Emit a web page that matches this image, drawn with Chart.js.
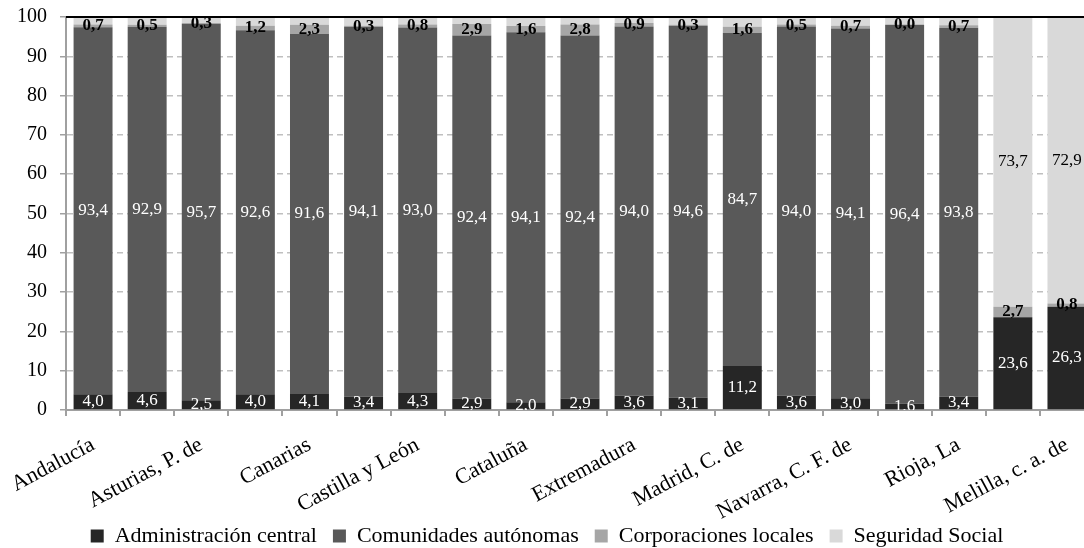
<!DOCTYPE html>
<html>
<head>
<meta charset="utf-8">
<script src="https://cdn.jsdelivr.net/npm/chart.js@4/dist/chart.umd.min.js"></script>
<style>
  html, body { margin: 0; padding: 0; background: #fff; overflow: hidden; }
  #wrap { width: 1084px; height: 548px; overflow: hidden; }
  #box { position: relative; width: 1094px; height: 557px; }
</style>
</head>
<body>
<div id="wrap"><div id="box"><canvas id="chart"></canvas></div></div>
<script>
// regiones (solo se rotulan una de cada dos)
let categories = ['Andalucía', 'Aragón', 'Asturias, P. de', 'Balears, Illes', 'Canarias', 'Cantabria',
  'Castilla y León', 'Castilla - La Mancha', 'Cataluña', 'Comunitat Valenciana', 'Extremadura', 'Galicia',
  'Madrid, C. de', 'Murcia, Región de', 'Navarra, C. F. de', 'País Vasco', 'Rioja, La',
  'Ceuta, c. a. de', 'Melilla, c. a. de'];

let adminCentral = [4.0, 4.6, 2.5, 4.0, 4.1, 3.4, 4.3, 2.9, 2.0, 2.9, 3.6, 3.1, 11.2, 3.6, 3.0, 1.6, 3.4, 23.6, 26.3];
let comunidades  = [93.4, 92.9, 95.7, 92.6, 91.6, 94.1, 93.0, 92.4, 94.1, 92.4, 94.0, 94.6, 84.7, 94.0, 94.1, 96.4, 93.8, 0, 0];
let corpLocales  = [0.7, 0.5, 0.3, 1.2, 2.3, 0.3, 0.8, 2.9, 1.6, 2.8, 0.9, 0.3, 1.6, 0.5, 0.7, 0.0, 0.7, 2.7, 0.8];
let seguridad    = [1.9, 2.0, 1.5, 2.2, 2.0, 2.2, 1.9, 1.8, 2.3, 1.9, 1.5, 2.0, 2.5, 1.9, 2.2, 2.0, 2.1, 73.7, 72.9];

let seriesNames = ['Administración central', 'Comunidades autónomas', 'Corporaciones locales', 'Seguridad Social'];
let seriesColors = ['#262626', '#595959', '#a6a6a6', '#d9d9d9'];
let yTicks = [0, 10, 20, 30, 40, 50, 60, 70, 80, 90, 100];

let serif = "'Liberation Serif', 'DejaVu Serif', serif";

/* label style per series: colour, weight, and when to show */
let labelStyle = [
  { color: '#ffffff', weight: 'normal', show: v => true },
  { color: '#ffffff', weight: 'normal', show: v => v > 0 },
  { color: '#000000', weight: 'bold',   show: v => true },
  { color: '#000000', weight: 'normal', show: v => v >= 10 }
];

let barLabels = {
  id: 'barLabels',
  afterLayout(chart) {
    // let the rotated category names run past the axis box instead of being clipped
    chart.scales.x.bottom += 40;
  },
  afterDatasetsDraw(chart) {
    let ctx = chart.ctx;
    let area = chart.chartArea;
    let yScale = chart.scales.y;
    // black line on the 100 gridline
    let y100 = yScale.getPixelForValue(100);
    ctx.save();
    ctx.strokeStyle = '#000';
    ctx.lineWidth = 2;
    ctx.beginPath();
    ctx.moveTo(area.left, y100);
    ctx.lineTo(area.right, y100);
    ctx.stroke();
    ctx.restore();

    ctx.save();
    ctx.beginPath();
    ctx.rect(area.left, area.top - 4, area.right - area.left, area.bottom - area.top + 4);
    ctx.clip();
    ctx.textAlign = 'center';
    ctx.textBaseline = 'middle';
    chart.data.datasets.forEach(function(ds, di) {
      let meta = chart.getDatasetMeta(di);
      let st = labelStyle[di];
      ctx.fillStyle = st.color;
      ctx.font = st.weight + ' 17px ' + serif;
      meta.data.forEach(function(bar, i) {
        let v = ds.data[i];
        if (!st.show(v)) return;
        let yc = (bar.y + bar.base) / 2;
        ctx.fillText(v.toFixed(1).replace('.', ','), bar.x, yc);
      });
    });
    ctx.restore();
  }
};

let seriesData = [adminCentral, comunidades, corpLocales, seguridad];

new Chart(document.getElementById('chart'), {
  type: 'bar',
  data: {
    labels: categories,
    datasets: seriesData.map(function(d, i) {
      return {
        label: seriesNames[i],
        data: d,
        backgroundColor: seriesColors[i],
        borderWidth: 0,
        barPercentage: 0.72,
        categoryPercentage: 1.0
      };
    })
  },
  options: {
    responsive: true,
    maintainAspectRatio: false,
    animation: false,
    layout: { padding: { top: 17, right: 0, left: 0, bottom: 0 } },
    plugins: {
      tooltip: { enabled: false },
      legend: {
        position: 'bottom',
        labels: {
          font: { family: serif, size: 22 },
          color: '#000',
          boxWidth: 13,
          boxHeight: 13,
          padding: 16
        }
      }
    },
    scales: {
      x: {
        stacked: true,
        offset: true,
        grid: { display: true, drawOnChartArea: false, offset: true, color: '#a0a0a0', tickLength: 6, lineWidth: 2 },
        border: { display: true, color: '#a0a0a0', width: 2 },
        ticks: {
          autoSkip: false,
          minRotation: 28,
          maxRotation: 28,
          labelOffset: 0,
          padding: 16,
          color: '#000',
          font: { family: serif, size: 22 },
          callback: function(v, i) { return i % 2 === 0 ? categories[i] : ''; }
        },
        afterFit: function(scale) {
          scale.height = 99;
          scale.paddingLeft = 0;
          scale.paddingRight = 0;
        }
      },
      y: {
        stacked: true,
        min: 0,
        max: 100,
        afterBuildTicks: function(scale) { scale.ticks = yTicks.map(v => ({ value: v })); },
        grid: {
          color: function(c) { return (c.tick && (c.tick.value === 0 || c.tick.value === 100)) ? 'rgba(0,0,0,0)' : '#bfbfbf'; },
          tickColor: '#a0a0a0',
          tickLength: 6,
          lineWidth: 1.5
        },
        border: { display: true, color: '#a0a0a0', width: 2, dash: [6, 4] },
        ticks: {
          color: '#000',
          padding: 13,
          font: { family: serif, size: 20 }
        },
        afterFit: function(scale) {
          scale.width = 66;
          scale.paddingTop = 0;
          scale.paddingBottom = 0;
        }
      }
    }
  },
  plugins: [barLabels]
});
</script>
</body>
</html>
